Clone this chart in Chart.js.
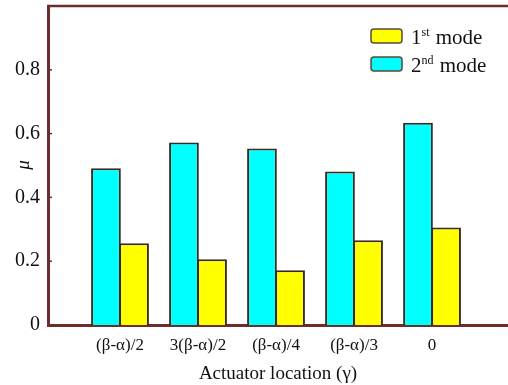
<!DOCTYPE html>
<html>
<head>
<meta charset="utf-8">
<script src="https://cdn.jsdelivr.net/npm/chart.js@4.4.1/dist/chart.umd.min.js"></script>
<style>
  html, body { margin: 0; padding: 0; background: #fff; }
  #wrap { width: 508px; height: 385px; }
</style>
</head>
<body>
<div id="wrap"><canvas id="modeChart"></canvas></div>
<script>
const categories = ['(β-α)/2', '3(β-α)/2', '(β-α)/4', '(β-α)/3', '0'];
const mode1 = [0.256, 0.206, 0.172, 0.266, 0.306];
const mode2 = [0.491, 0.572, 0.553, 0.481, 0.634];
const yTicks = [0, 0.2, 0.4, 0.6, 0.8];

const axisColor = '#6e2c2c';
const serif = "'Liberation Serif', 'DejaVu Serif', serif";

// top frame line, inward tick marks, y title and the legend with superscripts
const framePlugin = {
  id: 'frame',
  afterDraw(chart) {
    const ctx = chart.ctx;
    const area = chart.chartArea;
    const y = chart.scales.y;
    ctx.save();
    ctx.strokeStyle = axisColor;
    ctx.lineWidth = 2.5;
    ctx.beginPath();
    ctx.moveTo(area.left - 1, area.top);
    ctx.lineTo(area.right, area.top);
    ctx.stroke();
    ctx.lineWidth = 1.5;
    yTicks.forEach(v => {
      const py = y.getPixelForValue(v);
      ctx.beginPath();
      ctx.moveTo(area.left, py);
      ctx.lineTo(area.left + 4, py);
      ctx.stroke();
    });

    // y title
    ctx.fillStyle = '#111';
    ctx.font = 'italic 19px ' + serif;
    ctx.translate(24, 165);
    ctx.rotate(-Math.PI / 2);
    ctx.textAlign = 'center';
    ctx.textBaseline = 'middle';
    ctx.fillText('μ', 0, 0);
    ctx.restore();

    // legend, first mode on top
    ctx.save();
    const entries = chart.data.datasets.slice().reverse();
    entries.forEach((ds, i) => {
      const bx = 371, by = 29 + i * 28;
      ctx.fillStyle = ds.backgroundColor;
      ctx.strokeStyle = '#5a4a3a';
      ctx.lineWidth = 1.5;
      ctx.beginPath();
      ctx.roundRect(bx, by, 31, 14, 3);
      ctx.fill();
      ctx.stroke();
      const m = ds.label.match(/^(\d)(st|nd|rd|th)(.*)$/);
      let tx = 411;
      const base = by + 15;
      ctx.fillStyle = '#111';
      ctx.textBaseline = 'alphabetic';
      ctx.font = '21px ' + serif;
      ctx.fillText(m[1], tx, base);
      tx += ctx.measureText(m[1]).width;
      ctx.font = '12px ' + serif;
      ctx.fillText(m[2], tx, base - 8);
      tx += ctx.measureText(m[2]).width + 1;
      ctx.font = '21px ' + serif;
      ctx.fillText(m[3], tx, base);
    });
    ctx.restore();
  }
};

new Chart(document.getElementById('modeChart'), {
  type: 'bar',
  data: {
    datasets: [
      {
        label: '2nd mode',
        data: mode2.map((v, i) => ({ x: i + 1, y: v })),
        backgroundColor: '#00ffff',
        borderColor: '#3a2a20',
        borderWidth: 2,
        borderSkipped: 'bottom'
      },
      {
        label: '1st mode',
        data: mode1.map((v, i) => ({ x: i + 1, y: v })),
        backgroundColor: '#ffff00',
        borderColor: '#3a2a20',
        borderWidth: 2,
        borderSkipped: 'bottom'
      }
    ]
  },
  options: {
    responsive: true,
    maintainAspectRatio: false,
    animation: false,
    layout: { padding: { top: 6, right: 0, left: 0, bottom: 0 } },
    datasets: { bar: { categoryPercentage: 0.72, barPercentage: 1.06, inflateAmount: 0 } },
    plugins: {
      legend: { display: false },
      tooltip: { enabled: false }
    },
    scales: {
      x: {
        type: 'linear',
        offset: false,
        min: 0.077,
        max: 5.974,
        grid: { display: false, drawTicks: false, offset: false },
        border: { display: true, color: axisColor, width: 3 },
        afterBuildTicks: s => { s.ticks = categories.map((c, i) => ({ value: i + 1 })); },
        afterFit: s => { s.height = 60; s.paddingLeft = 0; s.paddingRight = 0; },
        ticks: {
          padding: 10,
          color: '#111',
          font: { family: serif, size: 17 },
          maxRotation: 0,
          autoSkip: false,
          callback: v => categories[v - 1] ?? ''
        },
        title: {
          display: true,
          text: 'Actuator location (γ)',
          color: '#111',
          font: { family: serif, size: 19 },
          padding: { top: 4, bottom: 0 }
        }
      },
      y: {
        min: 0,
        max: 1,
        grid: { display: false, drawTicks: false },
        border: { display: true, color: axisColor, width: 3 },
        afterBuildTicks: s => { s.ticks = yTicks.map(v => ({ value: v })); },
        afterFit: s => { s.width = 48; s.paddingTop = 0; s.paddingBottom = 0; },
        ticks: {
          padding: 8,
          color: '#111',
          font: { family: serif, size: 20 },
          callback: v => v === 0 ? '0' : v.toFixed(1)
        }
      }
    }
  },
  plugins: [framePlugin]
});
</script>
</body>
</html>
